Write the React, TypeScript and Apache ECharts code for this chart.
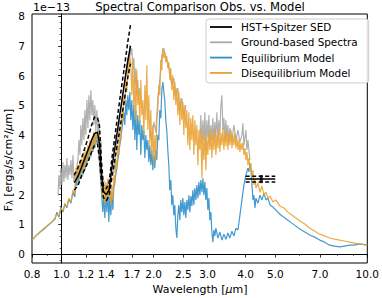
import React, { useEffect, useRef } from "react";
import * as echarts from "echarts";

// ---- Tick values ----
const xMajorTicks = [0.8, 1.0, 1.2, 1.4, 1.7, 2.0, 2.5, 3.0, 4.0, 5.0, 7.0, 10.0];
const xMinorTicks = [0.9, 6.0, 8.0, 9.0];
const yMajorTicks = [0, 1, 2, 3, 4, 5, 6, 7, 8];

// ---- Disequilibrium model (wavelength µm, flux 1e-13) ----
const diseqWave = [0.800,0.824,0.850,0.876,0.902,0.930,0.951,0.965,0.980,0.995,1.010,1.025,1.040,1.056,1.073,1.089,1.105,1.114,1.122,1.131,1.139,1.148,1.156,1.165,1.174,1.183,1.192,1.200,1.210,1.219,1.228,1.237,1.246,1.256,1.265,1.275,1.284,1.294,1.304,1.314,1.324,1.334,1.344,1.354,1.364,1.374,1.385,1.395,1.406,1.416,1.427,1.438,1.449,1.460,1.471,1.482,1.493,1.504,1.516,1.527,1.539,1.550,1.562,1.574,1.586,1.598,1.610,1.622,1.634,1.646,1.659,1.671,1.684,1.697,1.710,1.723,1.736,1.749,1.762,1.775,1.789,1.802,1.816,1.830,1.844,1.858,1.872,1.886,1.900,1.914,1.929,1.943,1.958,1.973,1.988,2.003,2.018,2.033,2.048,2.064,2.079,2.095,2.111,2.127,2.143,2.159,2.175,2.192,2.208,2.225,2.242,2.259,2.276,2.293,2.310,2.328,2.346,2.364,2.382,2.400,2.418,2.436,2.454,2.473,2.492,2.511,2.530,2.549,2.568,2.588,2.608,2.627,2.647,2.667,2.687,2.708,2.728,2.749,2.770,2.791,2.812,2.833,2.854,2.876,2.898,2.920,2.942,2.964,2.986,3.009,3.032,3.055,3.078,3.101,3.125,3.149,3.172,3.196,3.220,3.245,3.269,3.294,3.319,3.345,3.370,3.395,3.421,3.447,3.473,3.499,3.526,3.553,3.580,3.607,3.634,3.661,3.689,3.717,3.745,3.774,3.802,3.831,3.860,3.889,3.918,3.948,3.978,4.008,4.038,4.069,4.100,4.131,4.162,4.194,4.225,4.257,4.289,4.322,4.388,4.454,4.522,4.591,4.660,4.731,4.803,4.912,5.024,5.180,5.337,5.500,5.667,5.840,6.018,6.247,6.484,6.731,6.987,7.253,7.529,7.815,8.112,8.421,8.741,9.074,9.419,10.0];
const diseqFlux = [0.47,0.61,0.74,0.87,0.97,1.08,1.21,1.34,1.28,1.55,1.45,1.71,1.58,1.88,1.75,2.15,2.02,2.89,2.42,2.99,2.55,3.16,2.66,3.23,2.76,3.43,2.89,3.50,3.09,3.66,3.23,3.83,3.33,3.90,3.50,4.10,3.66,4.17,3.83,4.00,3.50,3.16,2.66,2.15,1.82,2.32,1.65,2.42,1.82,2.55,1.88,2.22,1.65,2.32,1.82,2.66,2.32,3.16,2.82,3.66,3.33,4.24,3.83,4.84,4.44,5.34,5.01,5.85,5.45,6.35,6.02,6.69,6.35,5.34,6.52,4.84,6.02,4.50,6.18,5.01,5.51,4.34,5.85,4.67,5.18,4.00,5.68,4.50,6.35,4.17,5.34,3.66,4.84,3.33,4.34,2.99,4.00,3.16,4.50,4.84,5.68,5.34,6.52,6.18,6.92,6.59,6.79,6.45,6.66,6.25,6.45,5.85,6.25,5.51,6.02,5.18,5.78,5.01,5.58,4.67,5.45,4.34,5.24,4.50,5.11,4.00,5.01,4.24,4.84,3.66,4.77,3.50,4.57,3.83,4.67,3.33,4.50,3.66,4.34,2.99,4.17,3.50,4.24,2.55,4.00,3.16,4.10,2.82,3.90,3.33,4.17,3.50,4.00,3.23,4.10,3.50,4.24,3.33,4.00,3.56,4.17,3.43,4.07,3.66,4.24,3.50,4.10,3.63,4.17,3.50,4.03,3.66,4.17,3.56,4.00,3.66,4.07,3.56,3.90,3.50,3.83,3.43,3.73,3.50,3.76,3.33,3.56,3.16,3.43,2.99,3.23,2.82,3.06,2.55,2.82,2.32,2.55,2.22,2.39,2.08,2.29,1.98,2.08,1.88,1.95,1.75,1.82,1.61,1.55,1.41,1.31,1.21,1.11,1.01,0.87,0.77,0.67,0.61,0.54,0.50,0.47,0.44,0.40,0.37,0.34,0.30];

// ---- Equilibrium model ----
const eqWave = [0.800,0.824,0.850,0.876,0.902,0.930,0.951,0.965,0.980,0.995,1.010,1.025,1.040,1.056,1.073,1.089,1.105,1.114,1.122,1.131,1.139,1.148,1.156,1.165,1.174,1.183,1.192,1.200,1.210,1.219,1.228,1.237,1.246,1.256,1.265,1.275,1.284,1.294,1.304,1.314,1.324,1.334,1.344,1.354,1.364,1.374,1.385,1.395,1.406,1.416,1.427,1.438,1.449,1.460,1.471,1.482,1.504,1.527,1.550,1.574,1.598,1.610,1.622,1.634,1.646,1.659,1.671,1.684,1.697,1.710,1.723,1.736,1.749,1.762,1.775,1.789,1.802,1.816,1.830,1.844,1.858,1.872,1.886,1.900,1.914,1.929,1.943,1.958,1.973,1.988,2.003,2.018,2.033,2.048,2.064,2.079,2.095,2.111,2.127,2.143,2.159,2.175,2.192,2.208,2.225,2.242,2.259,2.276,2.293,2.310,2.328,2.346,2.364,2.382,2.400,2.418,2.436,2.454,2.473,2.492,2.511,2.530,2.549,2.568,2.588,2.608,2.627,2.647,2.667,2.687,2.708,2.728,2.749,2.770,2.791,2.812,2.833,2.854,2.876,2.898,2.920,2.942,2.964,2.986,3.009,3.032,3.055,3.078,3.101,3.125,3.149,3.172,3.196,3.245,3.294,3.345,3.395,3.447,3.499,3.553,3.607,3.661,3.717,3.774,3.831,3.889,3.948,4.008,4.069,4.100,4.131,4.162,4.194,4.225,4.257,4.289,4.322,4.388,4.454,4.522,4.591,4.660,4.731,4.803,4.912,5.024,5.180,5.337,5.500,5.667,5.840,6.018,6.247,6.484,6.731,6.987,7.253,7.529,7.815,8.112,8.421,8.741,9.074,9.419,10.0];
const eqFlux = [0.47,0.61,0.74,0.84,0.97,1.08,1.18,1.41,1.24,1.58,1.41,1.68,1.55,1.85,1.71,2.08,1.92,2.76,2.29,2.89,2.42,3.06,2.55,3.16,2.66,3.33,2.82,3.39,2.99,3.56,3.16,3.73,3.26,3.83,3.43,4.00,3.56,4.07,3.73,3.83,3.33,2.89,2.42,1.88,1.41,1.98,1.21,2.15,1.41,2.32,1.08,1.98,1.31,2.08,1.48,2.22,2.66,3.16,3.66,4.17,4.77,4.34,5.18,4.67,5.34,4.84,5.45,4.50,5.18,4.17,5.01,3.83,4.84,3.50,4.67,4.00,4.50,3.33,4.34,3.83,4.17,3.23,4.00,3.50,3.83,3.09,3.66,2.99,3.50,2.82,3.33,2.89,3.50,3.16,4.00,3.83,4.84,4.57,5.51,5.78,5.45,5.18,4.50,4.17,3.50,2.99,2.15,2.49,1.65,1.98,1.31,1.65,0.87,0.54,1.31,1.65,1.14,1.82,1.41,1.88,1.31,1.75,1.21,1.82,1.48,1.98,1.41,1.95,1.61,2.15,1.65,2.22,1.82,2.32,1.88,2.42,1.98,2.49,2.08,2.55,1.98,2.42,1.82,2.22,1.48,1.88,1.14,1.41,0.74,0.40,0.81,0.61,0.87,0.54,0.74,0.47,0.67,0.50,0.71,0.54,0.77,0.61,0.87,0.81,1.31,1.82,2.32,2.66,2.89,2.76,3.06,2.82,2.32,1.82,1.98,1.55,1.88,1.71,1.98,1.82,2.05,1.82,1.88,1.65,1.58,1.48,1.34,1.24,1.14,1.04,0.94,0.84,0.74,0.64,0.57,0.47,0.40,0.30,0.27,0.24,0.27,0.30,0.30,0.34,0.30];

// ---- Ground-based spectra (null = gap between bands) ----
const groundWave = [0.973,0.980,0.987,0.995,1.002,1.010,1.017,1.025,1.033,1.040,1.048,1.056,1.065,1.073,1.081,1.089,1.097,1.105,1.114,1.122,1.131,1.139,1.148,1.156,1.165,1.174,1.183,1.192,1.200,1.210,1.219,1.228,1.237,1.246,1.256,1.265,1.275,1.284,1.294,1.304,1.314,1.324,1.334,1.344,1.354,1.364,1.374,1.385,1.395,1.406,1.416,null,1.482,1.504,1.527,1.550,1.574,1.598,1.622,1.646,1.659,1.671,1.684,1.697,1.710,1.723,1.736,1.749,1.762,1.775,1.789,1.802,null,1.943,1.973,2.003,2.033,2.064,2.095,2.127,2.159,2.192,2.225,2.259,2.293,2.328,2.364,2.400,2.436,2.473,2.511,2.549,null,2.833,2.854,2.876,2.898,2.920,2.942,2.964,2.986,3.009,3.032,3.055,3.078,3.101,3.125,3.149,3.172,3.196,3.220,3.245,3.269,3.294,3.319,3.345,3.370,3.395,3.421,3.447,3.473,3.499,3.526,3.553,3.607,3.661,3.717,3.774,3.831,3.889,3.918,3.948,4.008,4.038,4.069,4.131];
const groundFlux = [1.98,2.66,2.22,2.89,2.32,3.09,2.42,2.99,2.55,3.23,2.49,2.99,2.66,3.16,2.55,3.33,2.42,2.76,2.32,2.99,3.16,3.83,3.33,4.34,3.66,4.57,3.83,4.84,4.00,5.18,4.24,5.34,4.50,5.51,4.67,5.18,4.34,5.01,4.17,4.84,4.00,4.50,3.50,3.83,2.66,2.15,2.49,1.98,2.32,2.08,2.42,null,2.76,3.43,3.90,4.57,5.01,5.58,6.12,6.59,6.35,7.03,6.69,6.92,6.18,6.59,5.68,6.25,5.34,5.85,5.18,5.58,null,4.17,3.83,4.44,4.10,5.24,5.85,6.69,6.92,6.59,6.45,6.12,5.68,5.92,5.34,5.58,4.84,5.24,4.67,5.01,null,4.00,4.67,3.66,4.50,3.83,4.77,3.50,4.50,3.90,4.67,3.66,4.34,3.83,4.57,3.76,4.44,3.90,4.77,3.83,4.50,4.00,5.01,5.34,4.17,4.57,3.83,4.50,3.90,4.34,3.76,4.24,3.83,4.34,3.83,4.17,3.76,4.00,4.40,3.66,4.17,3.50,3.83,3.16];

// ---- HST + Spitzer SED ----
const sedWave = [1.10,1.13,1.16,1.19,1.22,1.25,1.28,1.31,1.33,1.35,1.37,1.40,1.43,1.46,1.50,1.55,1.60,1.65,1.68];
const sedFlux = [2.40,2.60,2.90,3.20,3.50,3.80,4.05,4.10,3.70,2.70,2.10,2.00,2.15,2.90,3.70,4.70,5.65,6.55,7.00];
const sedUpper = [2.65,2.90,3.20,3.55,3.90,4.30,4.60,4.60,4.30,3.10,2.30,2.20,2.40,3.20,4.10,5.20,6.20,7.20,7.70];
const sedLower = [2.15,2.30,2.60,2.85,3.10,3.40,3.65,3.70,3.20,2.40,1.90,1.80,1.95,2.55,3.30,4.20,5.10,6.00,6.40];
const spitzerWave = [4.0, 5.0];
const spitzerFlux = [2.52, 2.52];
const spitzerUpper = [2.62, 2.62];
const spitzerLower = [2.42, 2.42];
const spitzerCenter = [4.5];
const spitzerCenterFlux = [2.52];

const FONT = '"DejaVu Sans", "Liberation Sans", sans-serif';

const lg = (w: number) => Math.log10(w);
const pts = (w: (number | null)[], f: (number | null)[]) =>
  w.map((x, i) => (x == null || f[i] == null ? ["-", "-"] : [lg(x as number), f[i]]));

export default function App() {
  const ref = useRef<HTMLDivElement>(null);
  useEffect(() => {
    if (!ref.current) return;
    const chart = echarts.init(ref.current, undefined, { renderer: "svg" });

    const yMinor: number[] = [];
    for (let i = -1; i <= 40; i++) if (i % 5 !== 0) yMinor.push(+(i * 0.2).toFixed(1));

    const xMin = lg(0.8);
    const xMax = 1;
    const yMin = -0.3;
    const yMax = 8.07;

    const sedMid = pts(sedWave, sedFlux).concat([["-", "-"]], pts(spitzerWave, spitzerFlux));
    const sedUp = pts(sedWave, sedUpper).concat([["-", "-"]], pts(spitzerWave, spitzerUpper));
    const sedLo = pts(sedWave, sedLower).concat([["-", "-"]], pts(spitzerWave, spitzerLower));

    const modelLine = (color: string, opacity: number) => ({
      type: "line" as const,
      symbol: "none",
      connectNulls: false,
      clip: true,
      lineStyle: { color, width: 1.2, opacity },
      itemStyle: { color },
      emphasis: { disabled: true },
    });

    const option: any = {
      animation: false,
      grid: {
        left: 32, right: 14, top: 14, bottom: 35,
        show: true, borderColor: "#000", borderWidth: 1, backgroundColor: "transparent",
      },
      xAxis: [
        {
          type: "value", min: xMin, max: xMax,
          axisLine: { show: true, lineStyle: { color: "#000", width: 1 } },
          axisTick: { show: true, inside: false, length: 3.5, customValues: xMajorTicks.map(lg), lineStyle: { color: "#000", width: 0.8 } },
          axisLabel: {
            show: true, customValues: xMajorTicks.map(lg), margin: 5,
            fontFamily: FONT, fontSize: 10.5, color: "#000",
            formatter: (v: number) => Math.pow(10, v).toFixed(1),
          },
          splitLine: { show: false },
        },
        {
          type: "value", min: xMin, max: xMax, position: "bottom",
          axisLine: { show: false },
          axisTick: { show: true, inside: false, length: 2, customValues: xMinorTicks.map(lg), lineStyle: { color: "#000", width: 0.6 } },
          axisLabel: { show: false },
          splitLine: { show: false },
        },
      ],
      yAxis: [
        {
          type: "value", min: yMin, max: yMax,
          axisLine: { show: true, lineStyle: { color: "#000", width: 1 } },
          axisTick: { show: true, inside: false, length: 3.5, customValues: yMajorTicks, lineStyle: { color: "#000", width: 0.8 } },
          axisLabel: {
            show: true, customValues: yMajorTicks, margin: 7,
            fontFamily: FONT, fontSize: 10.5, color: "#000",
          },
          splitLine: { show: false },
        },
        {
          type: "value", min: yMin, max: yMax, position: "left",
          axisLine: { show: false },
          axisTick: { show: true, inside: false, length: 2, customValues: yMinor, lineStyle: { color: "#000", width: 0.6 } },
          axisLabel: { show: false },
          splitLine: { show: false },
        },
      ],
      legend: {
        orient: "vertical", left: 206, top: 19,
        icon: "rect",
        itemWidth: 22, itemHeight: 1.8, itemGap: 3.3,
        padding: [2, 11, 4, 4],
        backgroundColor: "rgba(255,255,255,0.85)",
        borderColor: "#cccccc", borderWidth: 1, borderRadius: 3,
        textStyle: { fontFamily: FONT, fontSize: 10.4, color: "#000", lineHeight: 12, padding: [0, 0, 0, 4] },
        data: ["HST+Spitzer SED", "Ground-based Spectra", "Equilibrium Model", "Disequilibrium Model"],
      },
      series: [
        { ...modelLine("#a9a9a9", 0.9), name: "Ground-based Spectra", data: pts(groundWave, groundFlux) },
        { ...modelLine("#2f8fcc", 0.9), name: "Equilibrium Model", data: pts(eqWave, eqFlux) },
        { ...modelLine("#e8a030", 0.88), name: "Disequilibrium Model", data: pts(diseqWave, diseqFlux) },
        {
          type: "line", name: "HST+Spitzer SED", symbol: "none", connectNulls: false,
          lineStyle: { color: "#000", width: 1.5 }, itemStyle: { color: "#000" },
          data: sedMid, z: 5,
        },
        {
          type: "line", name: "SED upper", symbol: "none", connectNulls: false,
          lineStyle: { color: "#000", width: 1.5, type: [4, 2.5] },
          data: sedUp, z: 5,
        },
        {
          type: "line", name: "SED lower", symbol: "none", connectNulls: false,
          lineStyle: { color: "#000", width: 1.5, type: [4, 2.5] },
          data: sedLo, z: 5,
        },
        {
          type: "scatter", name: "Spitzer point", symbol: "rect", symbolSize: [3, 8],
          itemStyle: { color: "#000" },
          data: pts(spitzerCenter, spitzerCenterFlux), z: 6,
        },
      ],
      graphic: [
        {
          type: "text", x: 200, y: 7,
          style: {
            text: "Spectral Comparison Obs. vs. Model", font: `11.6px ${FONT}`, fill: "#000",
            align: "center", verticalAlign: "middle", textAlign: "center", textVerticalAlign: "middle",
          },
        },
        {
          type: "text", x: 33, y: 7,
          style: {
            text: "1e\u221213", font: `11px ${FONT}`, fill: "#000",
            align: "left", verticalAlign: "middle", textAlign: "left", textVerticalAlign: "middle",
          },
        },
        {
          type: "text", x: 200, y: 289,
          style: {
            text: "{a|Wavelength [}{i|\u03bc}{a|m]}", fill: "#000",
            align: "center", verticalAlign: "middle", textAlign: "center", textVerticalAlign: "middle",
            rich: {
              a: { fontFamily: FONT, fontSize: 11, fill: "#000", color: "#000" },
              i: { fontFamily: FONT, fontSize: 11, fontStyle: "italic", fill: "#000", color: "#000" },
            },
          },
        },
        {
          type: "text", x: 8, y: 160, rotation: Math.PI / 2,
          style: {
            text: "{a|F}{s|\u03bb}{a| [ergs/s/cm\u00b2/}{i|\u03bc}{a|m]}", fill: "#000",
            align: "center", verticalAlign: "middle", textAlign: "center", textVerticalAlign: "middle",
            rich: {
              a: { fontFamily: FONT, fontSize: 11, fill: "#000", color: "#000" },
              s: { fontFamily: FONT, fontSize: 8, fill: "#000", color: "#000", verticalAlign: "bottom", padding: [4, 0, 0, 0] },
              i: { fontFamily: FONT, fontSize: 11, fontStyle: "italic", fill: "#000", color: "#000" },
            },
          },
        },
      ],
    };

    chart.setOption(option);
    return () => chart.dispose();
  }, []);

  return (
    <div
      ref={ref}
      style={{ position: "fixed", left: 0, top: 0, width: 382, height: 298, background: "#fff" }}
    />
  );
}
